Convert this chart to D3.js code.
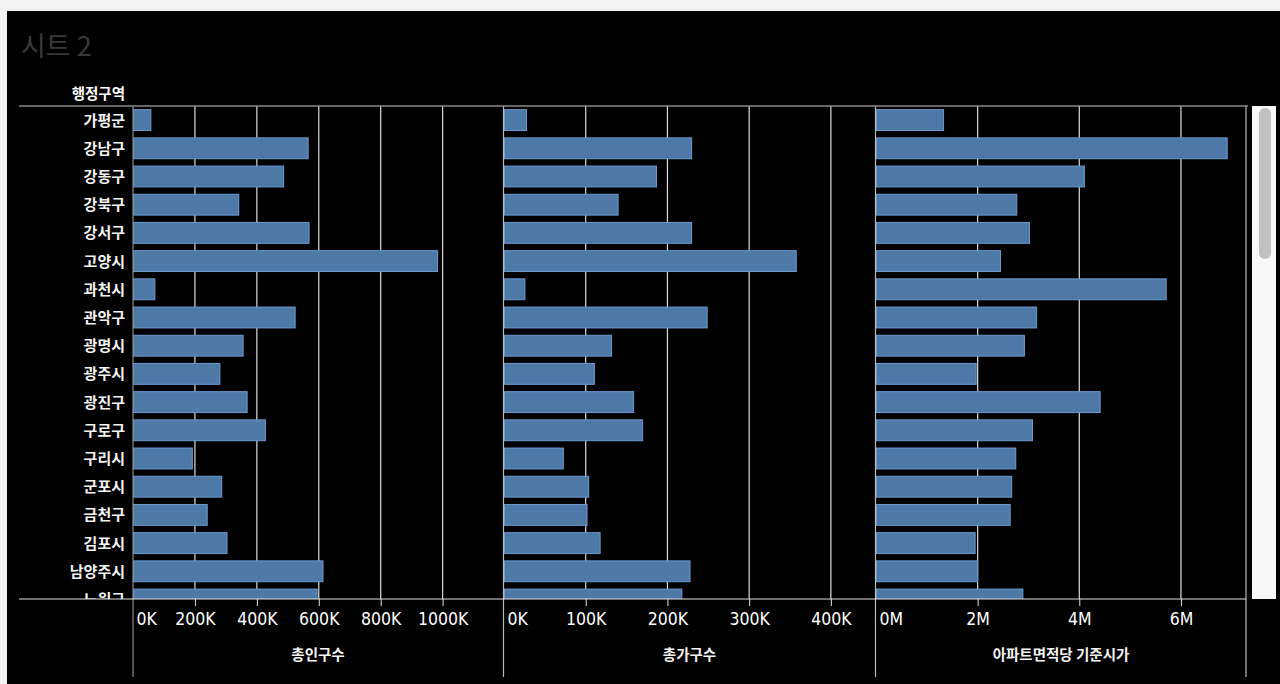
<!DOCTYPE html>
<html>
<head>
<meta charset="utf-8">
<script src="https://cdn.jsdelivr.net/npm/d3@7"></script>
<style>
  html, body { margin: 0; padding: 0; background: #f3f3f3; }
  svg { display: block; }
  text { font-family: "Noto Sans CJK KR", "Noto Sans", sans-serif; }
</style>
</head>
<body>
<div id="main"></div>
<script>
// data
const districts = ["가평군", "강남구", "강동구", "강북구", "강서구", "고양시", "과천시", "관악구", "광명시",
  "광주시", "광진구", "구로구", "구리시", "군포시", "금천구", "김포시", "남양주시", "노원구"];
const population = [56000, 564000, 485000, 340000, 567000, 982000, 69000, 522000, 354000,
  279000, 367000, 426000, 190000, 285000, 238000, 302000, 612000, 593000];
const households = [26900, 229000, 186000, 139000, 229000, 357000, 25000, 248000, 131000,
  110000, 158000, 169000, 72000, 103000, 101000, 117000, 227000, 217000];
const pricePerArea = [1320000, 6900000, 4090000, 2760000, 3010000, 2440000, 5700000, 3150000, 2910000,
  1960000, 4400000, 3070000, 2740000, 2660000, 2630000, 1940000, 1990000, 2880000];

const popTicks = [0, 200000, 400000, 600000, 800000, 1000000];
const hhTicks = [0, 100000, 200000, 300000, 400000];
const priceTicks = [0, 2000000, 4000000, 6000000];

const measures = [
  { title: "총인구수", values: population, ticks: popTicks, max: 1195000, fmt: d => d / 1000 + "K" },
  { title: "총가구수", values: households, ticks: hhTicks, max: 454000, fmt: d => d / 1000 + "K" },
  { title: "아파트면적당 기준시가", values: pricePerArea, ticks: priceTicks, max: 7280000, fmt: d => d / 1000000 + "M" }
];

const W = 1280, H = 684;
const rowTop = 106, rowBottom = 599, step = 28.2;
const panels = [[133, 503], [504, 875], [876, 1246]];

const svg = d3.select("#main").append("svg").attr("width", W).attr("height", H);

// page frame
svg.append("rect").attr("x", 0).attr("y", 0).attr("width", W).attr("height", H).attr("fill", "#f3f3f3");
svg.append("rect").attr("x", 7).attr("y", 11).attr("width", W - 7).attr("height", H - 11).attr("fill", "#000");

svg.append("text").attr("x", 21).attr("y", 56)
  .attr("fill", "#3a3a3a").attr("font-size", 27).text("시트 2");

svg.append("text").attr("x", 125).attr("y", 99).attr("text-anchor", "end")
  .attr("fill", "#fff").attr("font-size", 14.5).attr("font-weight", "bold").text("행정구역");

svg.append("defs").append("clipPath").attr("id", "rows")
  .append("rect").attr("x", 0).attr("y", rowTop).attr("width", W).attr("height", rowBottom - rowTop);

const y = d3.scaleBand().domain(districts)
  .range([rowTop, rowTop + districts.length * step])
  .paddingInner(0.26).paddingOuter(0.13);

// row labels
svg.append("g").attr("clip-path", "url(#rows)")
  .selectAll("text").data(districts).join("text")
  .attr("x", 125).attr("y", d => y(d) + y.bandwidth() / 2)
  .attr("dy", "0.36em").attr("text-anchor", "end")
  .attr("fill", "#f4f4f4").attr("font-size", 15).attr("font-weight", "bold")
  .text(d => d);

measures.forEach((m, i) => {
  const [x0, x1] = panels[i];
  const x = d3.scaleLinear().domain([0, m.max]).range([x0, x1]);
  const g = svg.append("g");

  // gridlines
  g.selectAll("line.grid").data(m.ticks.slice(1)).join("line")
    .attr("class", "grid")
    .attr("x1", d => x(d)).attr("x2", d => x(d))
    .attr("y1", rowTop).attr("y2", rowBottom)
    .attr("stroke", "#dcdcdc").attr("stroke-width", 1.2);

  // bars
  g.append("g").attr("clip-path", "url(#rows)")
    .selectAll("rect").data(districts).join("rect")
    .attr("x", x(0) + 0.5)
    .attr("y", d => y(d))
    .attr("width", (d, j) => x(m.values[j]) - x(0))
    .attr("height", y.bandwidth())
    .attr("fill", "#4e79a7")
    .attr("stroke", "#6b9bd2").attr("stroke-width", 1);

  // axis
  const axis = d3.axisBottom(x).tickValues(m.ticks).tickFormat(m.fmt).tickSize(7).tickPadding(7);
  const ax = g.append("g").attr("transform", `translate(0,${rowBottom})`).call(axis);
  ax.select(".domain").remove();
  ax.selectAll(".tick line").attr("stroke", "#e6e6e6");
  ax.selectAll(".tick text")
    .attr("fill", "#fff").attr("font-size", 17.5)
    .style("font-family", "'DejaVu Sans Condensed', 'Liberation Sans', sans-serif")
    .attr("text-anchor", (d, j) => j === 0 ? "start" : "middle")
    .attr("x", (d, j) => j === 0 ? 3 : 0);
  ax.selectAll(".tick").filter((d, j) => j === 0).select("line").remove();

  g.append("text").attr("x", (x0 + x1) / 2).attr("y", 660)
    .attr("text-anchor", "middle").attr("fill", "#f4f4f4")
    .attr("font-size", 14.5).attr("font-weight", "bold").text(m.title);
});

// panel separators
const seps = [133, 503.5, 875.5, 1246];
svg.selectAll("line.sep").data(seps).join("line")
  .attr("class", "sep")
  .attr("x1", d => d).attr("x2", d => d)
  .attr("y1", rowTop).attr("y2", 677)
  .attr("stroke", (d, i) => i === 0 ? "#8a8a8a" : "#b8b8b8").attr("stroke-width", 1.2);

// header and footer rules
svg.append("line").attr("x1", 19).attr("x2", 1248).attr("y1", rowTop).attr("y2", rowTop)
  .attr("stroke", "#8a8a8a").attr("stroke-width", 1.5);
svg.append("line").attr("x1", 19).attr("x2", 1246).attr("y1", rowBottom).attr("y2", rowBottom)
  .attr("stroke", "#e0e0e0").attr("stroke-width", 1.2);

// scrollbar
svg.append("rect").attr("x", 1252).attr("y", rowTop).attr("width", 24).attr("height", rowBottom - rowTop)
  .attr("fill", "#f8f8f8");
svg.append("rect").attr("x", 1259).attr("y", 108).attr("width", 12).attr("height", 151)
  .attr("rx", 6).attr("fill", "#c1c1c1");
</script>
</body>
</html>
